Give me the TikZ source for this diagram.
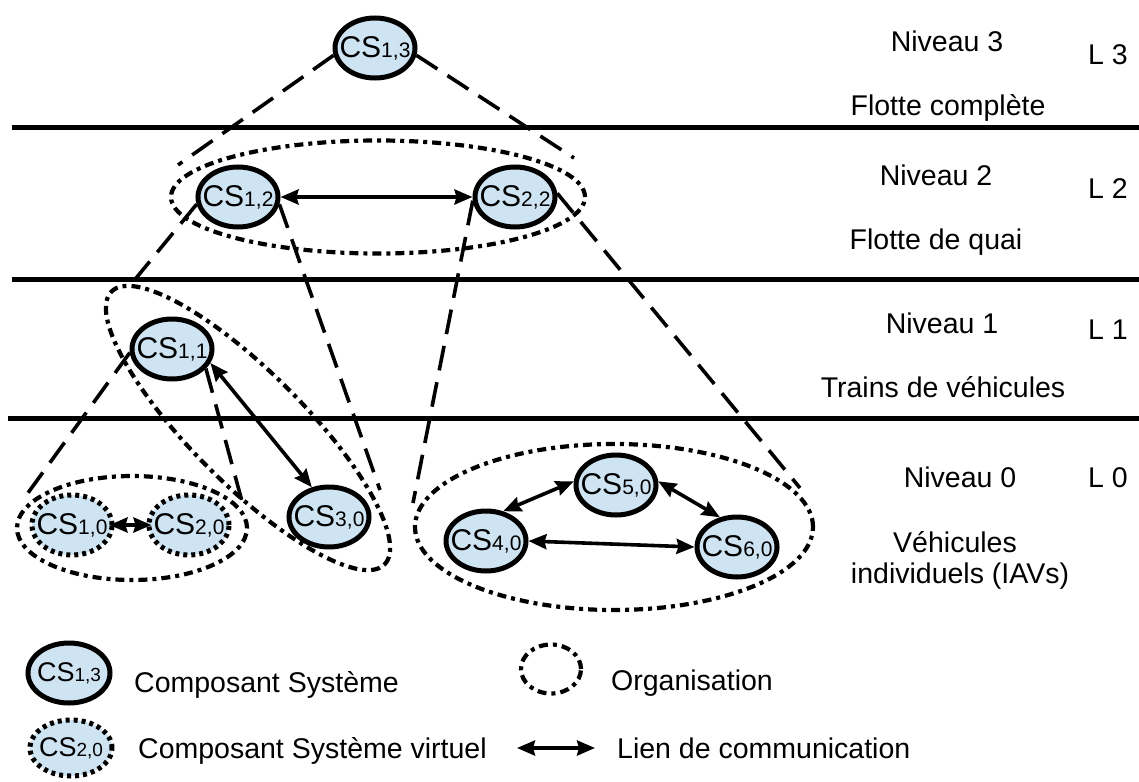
\documentclass[tikz,border=0pt]{standalone}
\usepackage{fontspec}
\setmainfont{Liberation Sans}
\usetikzlibrary{shapes.geometric,arrows.meta}
\pgfdeclarelayer{bg}
\pgfsetlayers{bg,main}
\definecolor{csblue}{RGB}{207,228,242}
\newcommand\cslab[1]{CS{\fontsize{21}{21}\selectfont #1}}
\begin{document}
\begin{tikzpicture}[x=1pt,y=-1pt,
  cs/.style={ellipse, draw, line width=5pt, fill=csblue, minimum width=80pt, minimum height=60pt,
    inner xsep=-9pt, inner ysep=0pt, font=\fontsize{30}{32}\selectfont},
  vcs/.style={cs, line width=5pt, dash pattern=on 4pt off 4pt},
  org/.style={ellipse, draw, line width=4.2pt, dash pattern=on 9pt off 5pt on 4pt off 5pt, inner sep=0pt},
  cone/.style={line width=3.6pt, dash pattern=on 25pt off 12pt},
  tip/.style={},
  comm/.style={line width=3.6pt, {Stealth[length=18pt,width=15pt,inset=2pt]}-{Stealth[length=18pt,width=15pt,inset=2pt]}},
  level/.style={line width=5pt},
  txt/.style={font=\fontsize{28.5}{34}\selectfont, inner sep=0pt}]
\useasboundingbox (0,0) rectangle (1139,781);

% level separators
\coordinate (l3a) at (12,127);  \coordinate (l3b) at (1139,127);
\coordinate (l2a) at (12,279);  \coordinate (l2b) at (1139,279);
\coordinate (l1a) at (8,418);   \coordinate (l1b) at (1139,418);
\draw[level] (l3a) -- (l3b);
\draw[level] (l2a) -- (l2b);
\draw[level] (l1a) -- (l1b);

% system components
\node[cs] (cs13) at (375,48) {\cslab{1,3}};
\node[cs] (cs12) at (238,197) {\cslab{1,2}};
\node[cs] (cs22) at (515,197) {\cslab{2,2}};
\node[cs] (cs11) at (172,349) {\cslab{1,1}};
\node[cs] (cs30) at (329,517) {\cslab{3,0}};
\node[vcs] (cs10) at (72,525) {\cslab{1,0}};
\node[vcs] (cs20) at (189,525) {\cslab{2,0}};
\node[cs] (cs40) at (486,541) {\cslab{4,0}};
\node[cs] (cs50) at (616,485) {\cslab{5,0}};
\node[cs] (cs60) at (737,547) {\cslab{6,0}};

% cone end points
\coordinate (c13l) at (178,165);
\coordinate (c13r) at (574,158);
\coordinate (c12l) at (128,288);
\coordinate (c12r) at (380,490);
\coordinate (c22l) at (413,503);
\coordinate (c22r) at (800,488);
\coordinate (c11l) at (25,497);
\coordinate (c11r) at (243,505);

\begin{pgfonlayer}{bg}
  \node[org, minimum width=414pt, minimum height=113pt] (org2) at (378,197) {};
  \node[org, rotate=-45, minimum width=386pt, minimum height=112pt] (org1) at (248,428) {};
  \node[org, minimum width=230pt, minimum height=104pt] (org0a) at (132,528) {};
  \node[org, minimum width=398pt, minimum height=166pt] (org0b) at (614,527) {};
  \draw[cone] (cs13.190) -- (c13l);
  \draw[cone] (cs13.-10) -- (c13r);
  \draw[cone] (cs12.190) -- (c12l);
  \draw[cone] (cs12.-10) -- (c12r);
  \draw[cone] (cs22.185) -- (c22l);
  \draw[cone] (cs22.5) -- (c22r);
  \draw[cone] (cs11.185) -- (c11l);
  \draw[cone] (cs11.-30) -- (c11r);
\end{pgfonlayer}

% communication links
\draw[comm] (cs12.east) -- (cs22.west);
\draw[comm] (cs11.-20) -- (cs30.120);
\draw[comm, shorten <=-5pt, shorten >=-5pt] (cs10.east) -- (cs20.west);
\draw[comm] (cs40.east) -- (cs60.west);
\draw[comm] (cs40.60) -- (cs50.175);
\draw[comm] (cs50.5) -- (cs60.120);

% level labels
\node[txt, anchor=base] (n3) at (947,52) {Niveau 3};
\node[txt, anchor=base west] (L3) at (1088,65) {L 3};
\node[txt, anchor=base] (f3) at (948,115) {Flotte complète};
\node[txt, anchor=base] (n2) at (936,185) {Niveau 2};
\node[txt, anchor=base west] (L2) at (1088,198) {L 2};
\node[txt, anchor=base] (f2) at (936,249) {Flotte de quai};
\node[txt, anchor=base] (n1) at (942,333) {Niveau 1};
\node[txt, anchor=base west] (L1) at (1088,339) {L 1};
\node[txt, anchor=base] (f1) at (943,397) {Trains de véhicules};
\node[txt, anchor=base] (n0) at (960,487) {Niveau 0};
\node[txt, anchor=base west] (L0) at (1088,487) {L 0};
\node[txt, anchor=base] (f0a) at (955,552) {Véhicules};
\node[txt, anchor=base] (f0b) at (960,583) {individuels (IAVs)};

% legend
\node[cs, minimum width=82pt, font=\fontsize{27}{30}\selectfont] (lcs) at (69,673) {CS{\fontsize{19}{19}\selectfont 1,3}};
\node[txt, anchor=base west] (lcst) at (134,692) {Composant Système};
\node[vcs, minimum width=82pt, minimum height=56pt, font=\fontsize{27}{30}\selectfont] (lvcs) at (71,748) {CS{\fontsize{19}{19}\selectfont 2,0}};
\node[txt, anchor=base west] (lvcst) at (138,758) {Composant Système virtuel};
\node[org, minimum width=60pt, minimum height=49pt] (lorg) at (551,669) {};
\node[txt, anchor=base west] (lorgt) at (611,690) {Organisation};
\coordinate (la1) at (517,748);
\coordinate (la2) at (595,748);
\draw[comm] (la1) -- (la2);
\node[txt, anchor=base west] (lcomt) at (617,758) {Lien de communication};
\end{tikzpicture}
\end{document}
